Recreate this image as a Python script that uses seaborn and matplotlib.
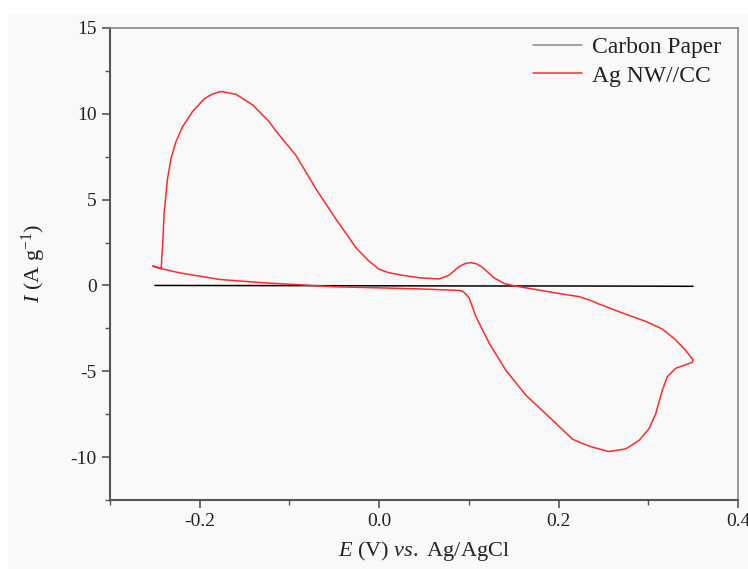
import numpy as np
import pandas as pd
import matplotlib.pyplot as plt
from matplotlib.patches import Rectangle
from matplotlib.ticker import MultipleLocator
import seaborn as sns

# Carbon paper: flat baseline
cp_e = [-0.25, -0.1, 0.0, 0.1, 0.2, 0.3, 0.35]
cp_i = [0.0, -0.01, -0.02, -0.03, -0.03, -0.04, -0.05]

# Ag NW//CC cyclic voltammogram (closed loop)
ag_e = [-0.252, -0.243, -0.2414, -0.2396, -0.2359, -0.232, -0.2265, -0.2191, -0.208,
        -0.195, -0.186, -0.1764, -0.1597, -0.141, -0.1226, -0.1151, -0.0928, -0.0705,
        -0.0482, -0.026, -0.012, 0.0, 0.011, 0.025, 0.0446, 0.0669, 0.078, 0.0891,
        0.096, 0.102, 0.109, 0.115, 0.128, 0.139, 0.152, 0.1765, 0.2006, 0.2228,
        0.234, 0.245, 0.271, 0.297, 0.3157, 0.3305, 0.3417, 0.3499,
        0.349, 0.3305, 0.3212, 0.3157, 0.3083, 0.3008, 0.2897, 0.2749, 0.2563,
        0.2377, 0.2228, 0.2154, 0.1894, 0.1634, 0.1411, 0.1226, 0.1077, 0.1003,
        0.0966, 0.0929, 0.0891, 0.0446, 0.0, -0.048, -0.0817, -0.13, -0.178,
        -0.2228, -0.243, -0.252]
ag_i = [1.13, 0.98, 2.3, 4.26, 6.22, 7.39, 8.37, 9.25, 10.13,
        10.87, 11.15, 11.3, 11.14, 10.52, 9.54, 9.0, 7.58, 5.63,
        3.87, 2.21, 1.45, 0.94, 0.74, 0.6, 0.45, 0.38, 0.6, 1.1,
        1.28, 1.33, 1.25, 1.06, 0.45, 0.12, -0.04, -0.25, -0.47, -0.65,
        -0.84, -1.08, -1.6, -2.09, -2.54, -3.17, -3.79, -4.34,
        -4.48, -4.83, -5.32, -6.1, -7.47, -8.35, -9.03, -9.52, -9.68,
        -9.42, -9.13, -8.95, -7.66, -6.39, -4.93, -3.36, -1.8, -0.72,
        -0.5, -0.33, -0.29, -0.2, -0.14, -0.08, 0.02, 0.16, 0.35,
        0.74, 0.98, 1.13]

cp = pd.DataFrame({"E": cp_e, "I": cp_i, "sample": "Carbon Paper"})
ag = pd.DataFrame({"E": ag_e, "I": ag_i, "sample": "Ag NW//CC"})

sns.set_style("ticks")
plt.rcParams["font.family"] = ["Liberation Serif", "DejaVu Serif"]
plt.rcParams["mathtext.fontset"] = "custom"
plt.rcParams["mathtext.rm"] = "Liberation Serif"
plt.rcParams["mathtext.it"] = "Liberation Serif:italic"

bg = "#f9f9f9"
fig = plt.figure(figsize=(7.48, 5.69), dpi=100, facecolor=bg)
fig.patches.append(Rectangle((0, 1 - 14 / 569), 1, 14 / 569, transform=fig.transFigure,
                             facecolor="white", edgecolor="none", zorder=-1))
fig.patches.append(Rectangle((0, 0), 8 / 748, 1, transform=fig.transFigure,
                             facecolor="white", edgecolor="none", zorder=-1))
ax = fig.add_axes([110 / 748, 1 - 500 / 569, 628 / 748, 472 / 569])
ax.set_facecolor(bg)

sns.lineplot(data=cp, x="E", y="I", sort=False, estimator=None, color="black",
             lw=1.1, ax=ax, label="Carbon Paper")
sns.lineplot(data=ag, x="E", y="I", sort=False, estimator=None, color="#ff2a2a",
             lw=1.1, ax=ax, label="Ag NW//CC")
for ln in ax.get_lines():
    ln.set_solid_joinstyle("round")

ax.set_xlim(-0.3, 0.4)
ax.set_ylim(-12.5, 15)
ax.xaxis.set_minor_locator(MultipleLocator(0.1))
ax.yaxis.set_minor_locator(MultipleLocator(2.5))
ax.set_xticks([-0.2, 0.0, 0.2, 0.4])
ax.set_xticklabels(["-0.2", "0.0", "0.2", "0.4"])
ax.set_yticks([-10, -5, 0, 5, 10, 15])
ax.set_yticklabels(["-10", "-5", "0", "5", "10", "15"])
ax.tick_params(which="major", direction="out", length=6, width=1.2, colors="#555555",
               labelcolor="#222222", labelsize=14)
ax.tick_params(which="minor", direction="out", length=3.5, width=1.0, colors="#555555")

for side in ["left", "bottom"]:
    ax.spines[side].set_color("#555555")
    ax.spines[side].set_linewidth(1.5)
for side in ["top", "right"]:
    ax.spines[side].set_color("#888888")
    ax.spines[side].set_linewidth(1.2)

ax.set_xlabel("$E$ (V) $vs.$ Ag/AgCl", fontsize=16, color="#222222", labelpad=6)
ax.set_ylabel("$I$ (A g$^{-1}$)", fontsize=16, color="#222222", labelpad=16)

leg = ax.legend(loc="upper right", frameon=False, fontsize=17, handlelength=2.1,
                handletextpad=0.4, labelspacing=0.3, borderaxespad=0.2,
                bbox_to_anchor=(0.995, 1.012))
leg.get_lines()[0].set_color("#888888")
for t in leg.get_texts():
    t.set_color("#222222")

fig.savefig("out.png", dpi=100, facecolor=bg)
